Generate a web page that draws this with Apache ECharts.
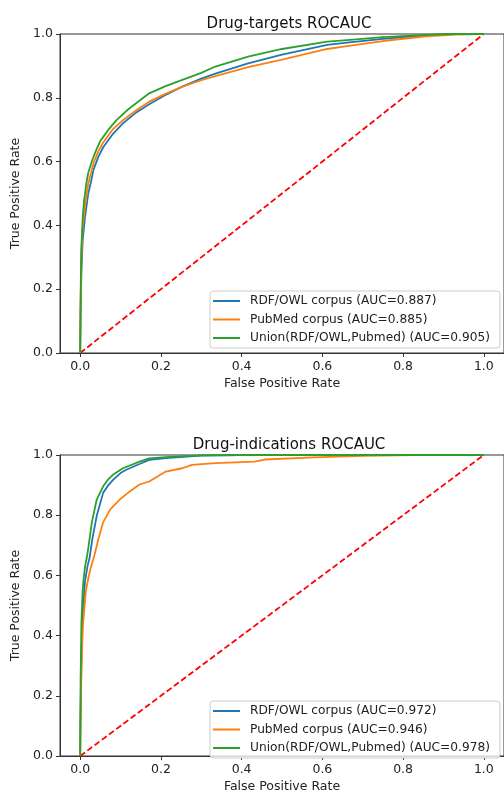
<!DOCTYPE html>
<html>
<head>
<meta charset="utf-8">
<script src="https://cdn.jsdelivr.net/npm/echarts@6/dist/echarts.min.js"></script>
<style>
html,body{margin:0;padding:0;background:#fff;}
#chart{width:504px;height:794px;}
</style>
</head>
<body>
<div id="chart"></div>
<script>
// ---- Data ----
const titles = ["Drug-targets ROCAUC", "Drug-indications ROCAUC"];
const seriesNames = ["RDF/OWL corpus", "PubMed corpus", "Union(RDF/OWL,Pubmed)"];
const aucTargets = [0.887, 0.885, 0.905];
const aucIndications = [0.972, 0.946, 0.978];
const xTicks = [0, 0.2, 0.4, 0.6, 0.8, 1.0];
const yTicks = [0, 0.2, 0.4, 0.6, 0.8, 1.0];
const chanceFpr = [0, 1];
const chanceTpr = [0, 1];

// Drug-targets
const tRdfFpr = [0, 0.001, 0.003, 0.006, 0.012, 0.02, 0.026, 0.033, 0.045, 0.057, 0.08, 0.106, 0.14, 0.171, 0.21, 0.253, 0.3, 0.335, 0.416, 0.5, 0.612, 0.661, 0.75, 0.857, 0.93, 1.0];
const tRdfTpr = [0, 0.12, 0.25, 0.35, 0.427, 0.5, 0.532, 0.575, 0.615, 0.645, 0.685, 0.72, 0.755, 0.78, 0.808, 0.835, 0.86, 0.876, 0.908, 0.935, 0.966, 0.973, 0.985, 0.996, 1.0, 1.0];
const tPubFpr = [0, 0.001, 0.003, 0.006, 0.012, 0.02, 0.026, 0.033, 0.045, 0.057, 0.08, 0.106, 0.14, 0.171, 0.21, 0.253, 0.3, 0.335, 0.416, 0.5, 0.612, 0.661, 0.75, 0.857, 0.93, 1.0];
const tPubTpr = [0, 0.15, 0.29, 0.39, 0.46, 0.532, 0.56, 0.595, 0.632, 0.66, 0.70, 0.73, 0.762, 0.788, 0.812, 0.835, 0.855, 0.868, 0.896, 0.92, 0.953, 0.962, 0.978, 0.993, 0.998, 1.0];
const tUniFpr = [0, 0.001, 0.0025, 0.0065, 0.01, 0.015, 0.02, 0.03, 0.041, 0.05, 0.07, 0.09, 0.12, 0.171, 0.21, 0.253, 0.3, 0.335, 0.416, 0.5, 0.612, 0.661, 0.75, 0.857, 0.92, 1.0];
const tUniTpr = [0, 0.17, 0.32, 0.43, 0.48, 0.53, 0.565, 0.605, 0.64, 0.665, 0.70, 0.73, 0.765, 0.814, 0.836, 0.856, 0.878, 0.898, 0.929, 0.953, 0.976, 0.981, 0.99, 0.997, 1.0, 1.0];

// Drug-indications
const iRdfFpr = [0, 0.0005, 0.002, 0.005, 0.01, 0.012, 0.018, 0.023, 0.03, 0.041, 0.057, 0.07, 0.082, 0.1, 0.114, 0.147, 0.171, 0.212, 0.3, 0.4, 1.0];
const iRdfTpr = [0.011, 0.1, 0.25, 0.437, 0.547, 0.58, 0.63, 0.656, 0.72, 0.798, 0.875, 0.9, 0.918, 0.94, 0.951, 0.97, 0.984, 0.99, 0.998, 1.0, 1.0];
const iPubFpr = [0, 0.0005, 0.002, 0.004, 0.007, 0.014, 0.02, 0.027, 0.034, 0.045, 0.057, 0.075, 0.098, 0.12, 0.147, 0.171, 0.212, 0.253, 0.277, 0.335, 0.432, 0.457, 0.579, 0.702, 0.824, 1.0];
const iPubTpr = [0, 0.08, 0.2, 0.33, 0.437, 0.547, 0.59, 0.63, 0.66, 0.72, 0.777, 0.82, 0.852, 0.876, 0.902, 0.912, 0.945, 0.956, 0.967, 0.973, 0.978, 0.985, 0.992, 0.997, 1.0, 1.0];
const iUniFpr = [0, 0.0005, 0.001, 0.003, 0.006, 0.008, 0.012, 0.016, 0.02, 0.029, 0.041, 0.057, 0.07, 0.081, 0.106, 0.147, 0.171, 0.212, 0.3, 0.4, 1.0];
const iUniTpr = [0, 0.1, 0.25, 0.44, 0.547, 0.58, 0.63, 0.656, 0.69, 0.777, 0.852, 0.896, 0.92, 0.934, 0.956, 0.978, 0.989, 0.993, 0.999, 1.0, 1.0];

// ---- Build chart ----
const colors = ["#1f77b4", "#ff7f0e", "#2ca02c"];
const FONT = "DejaVu Sans";
const zip = (a, b) => a.map((v, i) => [v, b[i]]);

const panels = [
  {auc: aucTargets, curves: [[tRdfFpr, tRdfTpr], [tPubFpr, tPubTpr], [tUniFpr, tUniTpr]]},
  {auc: aucIndications, curves: [[iRdfFpr, iRdfTpr], [iPubFpr, iPubTpr], [iUniFpr, iUniTpr]]}
];
const gridPos = [{top: 34, height: 319}, {top: 455, height: 305}];

const grids = [], xAxes = [], yAxes = [], series = [], legends = [], titleComps = [];
panels.forEach((p, gi) => {
  grids.push({left: 60, width: 449, top: gridPos[gi].top, height: gridPos[gi].height,
    show: true, borderColor: '#333', borderWidth: 1, backgroundColor: '#fff'});
  titleComps.push({text: titles[gi], left: 284, textAlign: 'center',
    top: gridPos[gi].top - 22,
    textStyle: {fontFamily: FONT, fontSize: 15, fontWeight: 'normal', color: '#111'}});
  xAxes.push({type: 'value', gridIndex: gi, min: -0.05, max: 1.05,
    name: 'False Positive Rate', nameLocation: 'middle', nameGap: 24,
    nameTextStyle: {fontFamily: FONT, fontSize: 12.5, color: '#222'},
    axisLine: {show: true, onZero: false, lineStyle: {color: '#333', width: 1}},
    axisTick: {show: true, customValues: xTicks, length: 4, lineStyle: {color: '#333'}},
    axisLabel: {customValues: xTicks, formatter: v => v.toFixed(1), fontFamily: FONT, fontSize: 12.5, color: '#222', margin: 7},
    splitLine: {show: false}});
  yAxes.push({type: 'value', gridIndex: gi, min: 0, max: 1, interval: 0.2,
    name: 'True Positive Rate', nameLocation: 'middle', nameGap: 33,
    nameTextStyle: {fontFamily: FONT, fontSize: 12.5, color: '#222'},
    axisLine: {show: true, onZero: false, lineStyle: {color: '#333', width: 1}},
    axisTick: {show: true, length: 4, lineStyle: {color: '#333'}},
    axisLabel: {formatter: v => v.toFixed(1), fontFamily: FONT, fontSize: 12.5, color: '#222', margin: 7},
    splitLine: {show: false}});
  const names = [];
  p.curves.forEach((c, si) => {
    const nm = seriesNames[si] + ' (AUC=' + p.auc[si].toFixed(3) + ')';
    names.push(nm);
    series.push({type: 'line', name: nm, xAxisIndex: gi, yAxisIndex: gi,
      data: zip(c[0], c[1]), showSymbol: false, symbol: 'none', smooth: false,
      color: colors[si], lineStyle: {color: colors[si], width: 1.8}, z: 3 + si});
  });
  series.push({type: 'line', name: 'chance' + gi, xAxisIndex: gi, yAxisIndex: gi,
    data: zip(chanceFpr, chanceTpr), showSymbol: false, symbol: 'none', silent: true,
    lineStyle: {color: '#ff0000', width: 1.8, type: [6, 3]}, z: 2});
  legends.push({data: names, orient: 'vertical', left: 210,
    top: gi === 0 ? 291 : 701, icon: 'rect', itemWidth: 27, itemHeight: 2, itemGap: 4.5,
    padding: [3, 10, 3, 3], backgroundColor: 'rgba(255,255,255,0.8)',
    borderColor: '#ccc', borderWidth: 1, borderRadius: 3,
    selectedMode: false,
    textStyle: {fontFamily: FONT, fontSize: 12.2, color: '#222', lineHeight: 14, padding: [0, 0, 0, 5]}});
});

const chart = echarts.init(document.getElementById('chart'), null, {renderer: 'canvas'});
chart.setOption({
  animation: false,
  backgroundColor: '#fff',
  title: titleComps,
  grid: grids,
  xAxis: xAxes,
  yAxis: yAxes,
  legend: legends,
  series: series
});
</script>
</body>
</html>
